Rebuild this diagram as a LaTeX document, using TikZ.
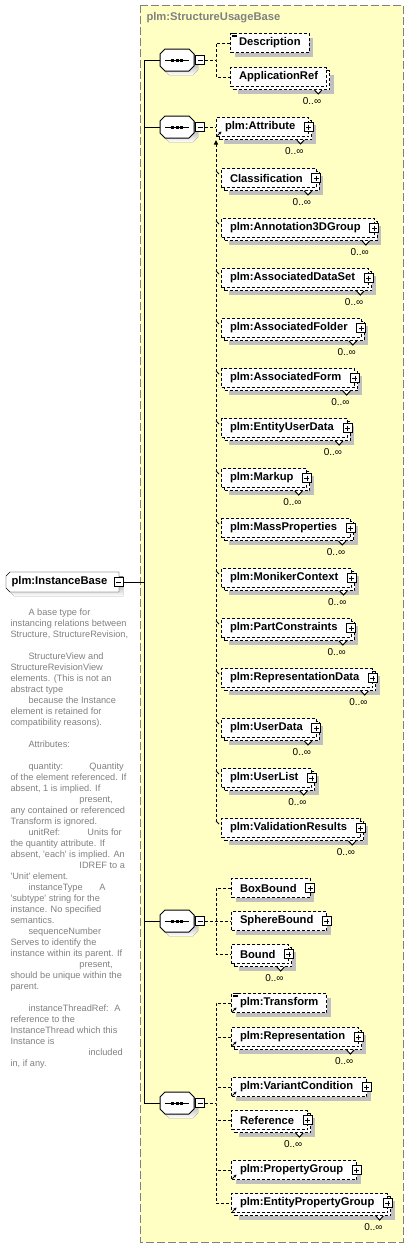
\documentclass[tikz,border=0pt]{standalone}
\usepackage{fontspec}
\setmainfont{Liberation Sans}
\usetikzlibrary{arrows.meta,calc,positioning,shadows,backgrounds}

\definecolor{paleyellow}{RGB}{255,255,196}
\definecolor{shade}{RGB}{192,192,192}
\definecolor{notegray}{RGB}{128,128,128}

\tikzset{
  conn/.style={dash pattern=on 3pt off 2pt},
  elem/.style={draw,dash pattern=on 3pt off 2pt,fill=white,anchor=west,
    font=\fontsize{11.2}{13}\selectfont\bfseries,minimum height=19pt,
    inner xsep=8.5pt,inner ysep=0pt},
  one/.style={elem,drop shadow={shadow xshift=4pt,shadow yshift=-4pt,fill=shade,opacity=1}},
  many/.style={elem,drop shadow={shadow xshift=7pt,shadow yshift=-7pt,fill=shade,opacity=1},
    copy shadow={shadow xshift=3pt,shadow yshift=-3pt,draw=black,
      dash pattern=on 3pt off 2pt,fill=white}},
  kids/.style={execute at end node={\hspace{5pt}}},
  seqbox/.style={minimum width=33pt,minimum height=21pt,inner sep=0pt},
  ibox/.style={anchor=west,font=\fontsize{11.2}{13}\selectfont\bfseries,
    minimum width=112pt,minimum height=19pt,inner xsep=3pt,inner ysep=0pt,
    execute at end node={\hspace{6pt}}},
  pmbox/.style={draw,solid,fill=white,minimum size=9pt,inner sep=0pt,line width=0.8pt},
  minusbox/.style={pmbox,path picture={\draw[line width=0.8pt]
      ([xshift=2pt]path picture bounding box.west) -- ([xshift=-2pt]path picture bounding box.east);}},
  plusbox/.style={pmbox,path picture={\draw[line width=0.8pt]
      ([xshift=2pt]path picture bounding box.west) -- ([xshift=-2pt]path picture bounding box.east)
      ([yshift=-2pt]path picture bounding box.north) -- ([yshift=2pt]path picture bounding box.south);}},
  occurs/.style={font=\fontsize{10}{12}\selectfont,inner sep=0pt},
  grouptitle/.style={anchor=west,text=notegray,font=\fontsize{11.2}{13}\selectfont\bfseries,inner sep=0pt},
  note/.style={anchor=north west,text=notegray,font=\fontsize{9.2}{11}\selectfont,align=left,inner sep=0pt}
}

% outlines
\newcommand\octpath[1]{([xshift=5pt]#1.north west) -- ([xshift=-5pt]#1.north east)
  -- ([yshift=-5pt]#1.north east) -- ([yshift=5pt]#1.south east)
  -- ([xshift=-5pt]#1.south east) -- ([xshift=5pt]#1.south west)
  -- ([yshift=5pt]#1.south west) -- ([yshift=-5pt]#1.north west) -- cycle}
\newcommand\ibpath[1]{([xshift=4pt]#1.north west) -- (#1.north east) -- (#1.south east)
  -- ([xshift=4pt]#1.south west) -- ([yshift=4pt]#1.south west)
  -- ([yshift=-4pt]#1.north west) -- cycle}
% small marks on the boxes
\newcommand\plusfor[1]{\node[plusbox] (#1-p) at ([xshift=-0.5pt]#1.east) {};}
\newcommand\occursfor[1]{%
  \draw[solid,fill=white] ([shift={(-12.5pt,-3pt)}]#1.south east) -- ++(3.7pt,-4pt) -- ++(3.7pt,4pt);
  \node[occurs] (#1-o) at ([shift={(-15pt,-14pt)}]#1.south east) {0..∞};}
\newcommand\reffor[1]{\draw[solid,-{Stealth[length=2.8pt,width=2.8pt]},line width=0.9pt]
  ([shift={(1.5pt,1.5pt)}]#1.south west) -- ++(4pt,4pt);}
\newcommand\docfor[1]{\foreach \k in {0.3,1.9,3.5}
  {\draw[solid,line width=0.7pt] ([shift={(2pt,-\k pt)}]#1.north west) -- ++(4.5pt,0);}}
\newcommand\seqdraw[1]{%
  \fill[shade,transform canvas={shift={(4pt,-4pt)}}] \octpath{#1};
  \draw[fill=white] \octpath{#1};
  \draw (#1.center) ++(-12pt,0) -- ++(24pt,0);
  \foreach \d in {-4.5,0,4.5}
    {\fill ([shift={(\d pt-1.5pt,-1.5pt)}]#1.center) rectangle ++(3pt,3pt);}}

\begin{document}
\begin{tikzpicture}[x=1pt,y=-1pt,line width=1pt]
  \useasboundingbox (0,0) rectangle (408,1248);
  % the base type frame
  \draw[draw=notegray,dash pattern=on 8pt off 3pt,fill=paleyellow] (140,5) rectangle (403,1242);
  \node[grouptitle] (base) at (146,18) {plm:StructureUsageBase};

  % global element and its note
  \node[ibox] (ib) at (6,582) {plm:InstanceBase};
  \begin{scope}[on background layer]
    \fill[shade,transform canvas={shift={(4pt,-4pt)}}] \ibpath{ib};
    \draw[fill=white] \ibpath{ib};
  \end{scope}
  \node[minusbox] (ib-m) at ([xshift=-0.5pt]ib.east) {};
  \coordinate (trunk) at (144.5,582);
  \draw (ib-m.east) -- (trunk);
  \node[note] (doc) at (10,608) {\hspace*{18pt}A base type for\\
    instancing relations between\\
    Structure, StructureRevision,\\
    \mbox{}\\
    \hspace*{18pt}StructureView and\\
    StructureRevisionView\\
    elements. (This is not an\\
    abstract type\\
    \hspace*{18pt}because the Instance\\
    element is retained for\\
    compatibility reasons).\\
    \mbox{}\\
    \hspace*{18pt}Attributes:\\
    \mbox{}\\
    \hspace*{18pt}\makebox[61pt][l]{quantity:}Quantity\\
    of the element referenced. If\\
    absent, 1 is implied. If\\
    \hspace*{69pt}present,\\
    any contained or referenced\\
    Transform is ignored.\\
    \hspace*{18pt}\makebox[59pt][l]{unitRef:}Units for\\
    the quantity attribute. If\\
    absent, \textquotesingle each\textquotesingle{} is implied. An\\
    \hspace*{69pt}IDREF to a\\
    \textquotesingle Unit\textquotesingle{} element.\\
    \hspace*{18pt}\makebox[71pt][l]{instanceType}A\\
    \textquotesingle subtype\textquotesingle{} string for the\\
    instance. No specified\\
    semantics.\\
    \hspace*{18pt}sequenceNumber\\
    Serves to identify the\\
    instance within its parent. If\\
    \hspace*{69pt}present,\\
    should be unique within the\\
    parent.\\
    \mbox{}\\
    \hspace*{18pt}\makebox[86pt][l]{instanceThreadRef:}A\\
    reference to the\\
    InstanceThread which this\\
    Instance is\\
    \hspace*{78pt}included\\
    in, if any.};

  % the four sequences on one trunk
  \foreach \s/\yy in {seqa/60,seqb/127,seqc/921,seqd/1103}{
    \node[seqbox] (\s) at (177,\yy) {};
    \seqdraw{\s}
    \node[minusbox] (\s-m) at ([xshift=6pt]\s.east) {};
  }
  \draw (seqa.west) -- ++(-16pt,0) |- (seqd.west);
  \draw (seqb.west) -- ++(-16pt,0);
  \draw (seqc.west) -- ++(-16pt,0);

  % first sequence
  \node[one] (desc) at (230,43) {Description};
  \docfor{desc}
  \node[many] (apref) at (230,77) {ApplicationRef};
  \occursfor{apref}
  \coordinate (ja) at (216,60);
  \draw[conn] (seqa-m.east) -- (ja);
  \draw[conn] (desc.west) -| (ja) |- (apref.west);

  % second sequence: attribute and its substitution group
  \node[many,kids] (attr) at (216,127) {plm:Attribute};
  \plusfor{attr}
  \occursfor{attr}
  \reffor{attr}
  \draw[conn] (seqb-m.east) -- (attr.west);
  \foreach \n/\lb/\yy in {cls/Classification/178,ann/plm:Annotation3DGroup/228,
      ads/plm:AssociatedDataSet/278,afo/plm:AssociatedFolder/328,
      afm/plm:AssociatedForm/378,eud/plm:EntityUserData/428,mkp/plm:Markup/478,
      mas/plm:MassProperties/528,mon/plm:MonikerContext/578,
      pcs/plm:PartConstraints/628,rpd/plm:RepresentationData/678,
      usd/plm:UserData/728,usl/plm:UserList/778,vres/plm:ValidationResults/828}{
    \node[many,kids] (\n) at (221,\yy) {\lb};
    \plusfor{\n}
    \occursfor{\n}
    \draw[solid,line width=0.8pt] (\n.north west) ++(-5pt,-3pt) -- ++(3pt,-3pt);
  }
  \coordinate (subtop) at (216,140);
  \coordinate (subbot) at (216,822);
  \draw[conn,{Triangle[length=4.5pt,width=4pt]}-] (subtop) -- (subbot);

  % third sequence
  \node[one,kids] (boxb) at (231,888) {BoxBound};
  \node[one,kids] (sphb) at (231,921) {SphereBound};
  \node[many,kids] (bnd) at (231,954) {Bound};
  \foreach \n in {boxb,sphb,bnd} {\plusfor{\n}}
  \occursfor{bnd}
  \coordinate (jc) at (216,921);
  \draw[conn] (seqc-m.east) -- (sphb.west);
  \draw[conn] (boxb.west) -| (jc) |- (bnd.west);

  % fourth sequence
  \node[one] (trans) at (231,1003) {plm:Transform};
  \docfor{trans}
  \node[many,kids] (repr) at (231,1037) {plm:Representation};
  \node[one,kids] (varc) at (231,1087) {plm:VariantCondition};
  \node[many,kids] (refe) at (231,1120) {Reference};
  \node[one,kids] (propg) at (231,1170) {plm:PropertyGroup};
  \node[many,kids] (epg) at (231,1203) {plm:EntityPropertyGroup};
  \foreach \n in {repr,varc,refe,propg,epg} {\plusfor{\n}}
  \foreach \n in {trans,repr,varc,propg,epg} {\reffor{\n}}
  \foreach \n in {repr,refe,epg} {\occursfor{\n}}
  \coordinate (jd) at (216,1103);
  \draw[conn] (seqd-m.east) -- (jd);
  \draw[conn] (trans.west) -| (jd) |- (epg.west);
  \foreach \n in {repr,varc,refe,propg} {\draw[conn] (\n.west) -- (\n.west -| jd);}
\end{tikzpicture}
\end{document}
